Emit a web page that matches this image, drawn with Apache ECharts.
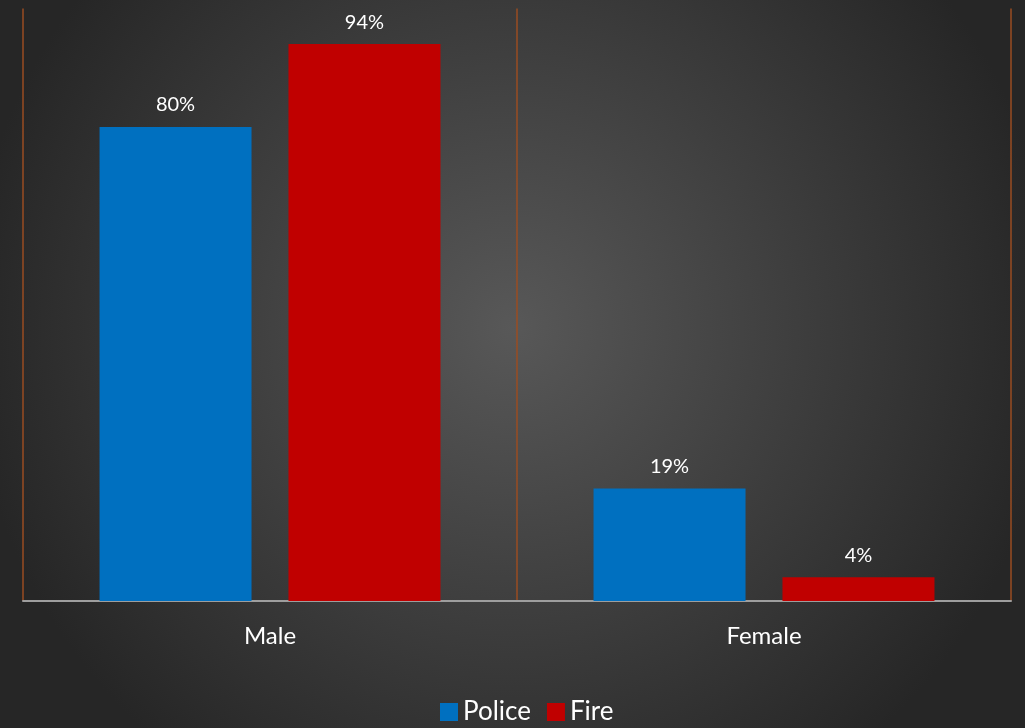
<!DOCTYPE html>
<html>
<head>
<meta charset="utf-8">
<script src="https://cdn.jsdelivr.net/npm/echarts@6/dist/echarts.min.js"></script>
<style>
html,body{margin:0;padding:0;width:1025px;height:728px;overflow:hidden;}
#c{width:1025px;height:728px;}
</style>
</head>
<body>
<div id="c"></div>
<script>
var categories = ['Male', 'Female'];
var policeValues = [80, 19];
var fireValues = [94, 4];
var seriesNames = ['Police', 'Fire'];

var chart = echarts.init(document.getElementById('c'));
var font = 'Lato, "Open Sans", sans-serif';
var labelCfg = {
  show: true, position: 'top', distance: 12,
  color: '#ffffff', fontSize: 20, fontFamily: font,
  formatter: function (p) { return p.value + '%'; }
};
chart.setOption({
  backgroundColor: {
    type: 'radial', x: 0.5, y: 0.45, r: 0.75,
    colorStops: [
      { offset: 0, color: '#585858' },
      { offset: 1, color: '#262626' }
    ]
  },
  animation: false,
  legend: {
    bottom: -2, left: 435,
    itemWidth: 18, itemHeight: 18, itemGap: 16,
    icon: 'rect',
    textStyle: { color: '#ffffff', fontSize: 26, fontFamily: font },
    data: seriesNames
  },
  grid: { left: 23, right: 14, top: 8.5, bottom: 127 },
  xAxis: {
    type: 'category', data: categories,
    axisLine: { show: true, lineStyle: { color: '#9e9e9e', width: 2 } },
    axisTick: { show: false },
    axisLabel: { color: '#ffffff', fontSize: 24, fontFamily: font, margin: 23 },
    splitLine: { show: true, lineStyle: { color: '#9a4d22', width: 1.5 } }
  },
  yAxis: {
    type: 'value', min: 0, max: 100, interval: 20,
    show: false,
    splitLine: { show: false }
  },
  series: [
    {
      name: seriesNames[0], type: 'bar', data: policeValues,
      barWidth: 152, barGap: '24.3%',
      itemStyle: { color: '#0070c0' },
      label: labelCfg
    },
    {
      name: seriesNames[1], type: 'bar', data: fireValues,
      barWidth: 152,
      itemStyle: { color: '#c00000' },
      label: labelCfg
    }
  ]
});
</script>
</body>
</html>
